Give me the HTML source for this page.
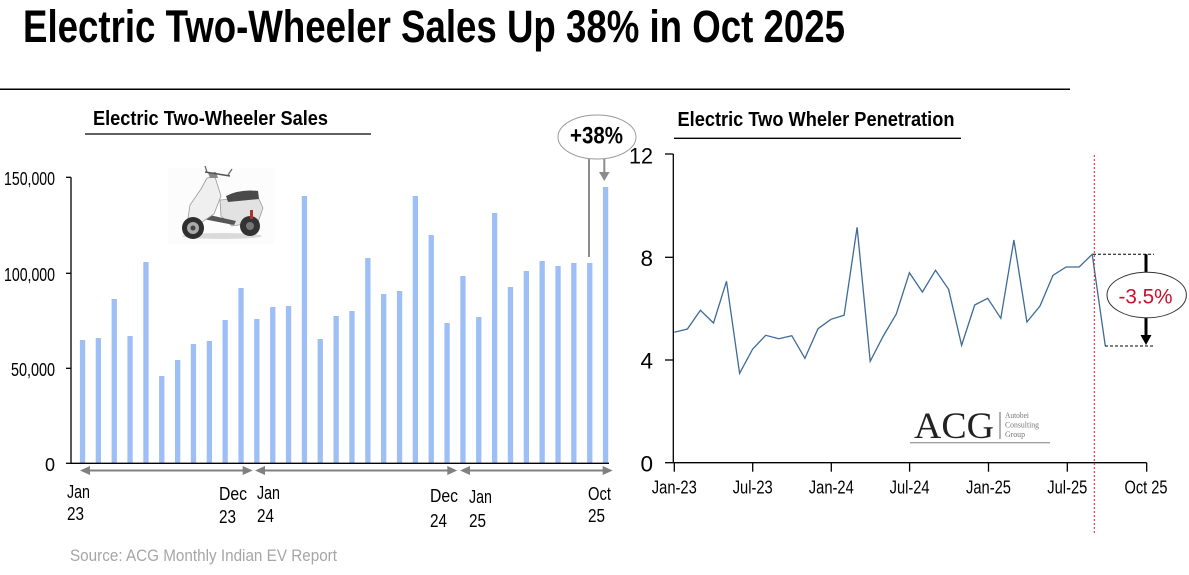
<!DOCTYPE html>
<html>
<head>
<meta charset="utf-8">
<style>
html,body{margin:0;padding:0;background:#fff;}
svg{display:block;}
text{font-family:"Liberation Sans Narrow","Liberation Sans",Arial,sans-serif;}
text.serif,.serif text{font-family:"Liberation Serif","DejaVu Serif",serif;}
</style>
</head>
<body>
<svg width="1189" height="575" viewBox="0 0 1189 575" xmlns="http://www.w3.org/2000/svg">
  <rect width="1189" height="575" fill="#fff"/>

  <!-- Main title -->
  <text x="23" y="42" font-size="45" font-weight="bold" fill="#000" textLength="822" lengthAdjust="spacingAndGlyphs">Electric Two-Wheeler Sales Up 38% in Oct 2025</text>
  <line x1="0" y1="89.3" x2="1070" y2="89.3" stroke="#000" stroke-width="1.5"/>

  <!-- LEFT CHART -->
  <text x="93" y="125" font-size="20" font-weight="bold" fill="#000" textLength="235" lengthAdjust="spacingAndGlyphs">Electric Two-Wheeler Sales</text>
  <line x1="85" y1="134" x2="371" y2="134" stroke="#000" stroke-width="1.3"/>

  <!-- scooter -->
  <g>
    <rect x="168" y="168" width="106" height="76" fill="#fcfcfc"/>
    <ellipse cx="222" cy="236" rx="40" ry="3" fill="#dadada"/>
    <path d="M220 200 L258 197 L263 208 L258 222 L232 226 L221 216 Z" fill="#e2e2e2" stroke="#9a9a9a" stroke-width="0.8"/>
    <path d="M226 196 Q240 189 258 191 L259 199 L228 202 Z" fill="#4a4a4a"/>
    <circle cx="250" cy="226" r="10" fill="#333"/>
    <circle cx="250" cy="226" r="4" fill="#777"/>
    <rect x="250" y="210" width="3" height="9" fill="#b03030"/>
    <path d="M205 214 L236 221 L234 225 L203 219 Z" fill="#555"/>
    <path d="M201 189 L207 178 L215 177 L221 196 L214 214 L202 222 L188 218 L190 205 Z" fill="#efefef" stroke="#9a9a9a" stroke-width="0.8"/>
    <path d="M210 178 L208 173 L216 172 L218 178 Z" fill="#888"/>
    <line x1="205" y1="172" x2="230" y2="176" stroke="#555" stroke-width="1.6"/>
    <line x1="207" y1="172" x2="205" y2="166" stroke="#666" stroke-width="1.2"/>
    <line x1="228" y1="175" x2="232" y2="169" stroke="#666" stroke-width="1.2"/>
    <circle cx="193" cy="228" r="11" fill="#2e2e2e"/>
    <circle cx="193" cy="228" r="6" fill="#aaa"/>
    <circle cx="193" cy="228" r="2.5" fill="#444"/>
  </g>

  <!-- y axis labels -->
  <g font-size="18" fill="#000" text-anchor="end">
    <text x="55" y="185" textLength="51" lengthAdjust="spacingAndGlyphs">150,000</text>
    <text x="55" y="281" textLength="51" lengthAdjust="spacingAndGlyphs">100,000</text>
    <text x="55" y="376" textLength="44" lengthAdjust="spacingAndGlyphs">50,000</text>
    <text x="55" y="471">0</text>
  </g>
  <!-- axes -->
  <g stroke="#000" stroke-width="1.3">
    <line x1="71" y1="177.3" x2="71" y2="463.3"/>
    <line x1="66" y1="177.3" x2="71" y2="177.3"/>
    <line x1="66" y1="273.3" x2="71" y2="273.3"/>
    <line x1="66" y1="368.3" x2="71" y2="368.3"/>
    <line x1="66" y1="463.3" x2="71" y2="463.3"/>
  </g>

  <!-- bars -->
  <g fill="#9ebef6">
    <rect x="79.9" y="340" width="5.3" height="123.3"/>
    <rect x="95.7" y="338" width="5.3" height="125.3"/>
    <rect x="111.6" y="299" width="5.3" height="164.3"/>
    <rect x="127.4" y="336" width="5.3" height="127.3"/>
    <rect x="143.3" y="262" width="5.3" height="201.3"/>
    <rect x="159.1" y="376" width="5.3" height="87.3"/>
    <rect x="175.0" y="360" width="5.3" height="103.3"/>
    <rect x="190.8" y="344" width="5.3" height="119.3"/>
    <rect x="206.7" y="341" width="5.3" height="122.3"/>
    <rect x="222.5" y="320" width="5.3" height="143.3"/>
    <rect x="238.4" y="288" width="5.3" height="175.3"/>
    <rect x="254.2" y="319" width="5.3" height="144.3"/>
    <rect x="270.1" y="307" width="5.3" height="156.3"/>
    <rect x="285.9" y="306" width="5.3" height="157.3"/>
    <rect x="301.8" y="196" width="5.3" height="267.3"/>
    <rect x="317.6" y="339" width="5.3" height="124.3"/>
    <rect x="333.5" y="316" width="5.3" height="147.3"/>
    <rect x="349.3" y="311" width="5.3" height="152.3"/>
    <rect x="365.2" y="258" width="5.3" height="205.3"/>
    <rect x="381.0" y="294" width="5.3" height="169.3"/>
    <rect x="396.9" y="291" width="5.3" height="172.3"/>
    <rect x="412.7" y="196" width="5.3" height="267.3"/>
    <rect x="428.6" y="235" width="5.3" height="228.3"/>
    <rect x="444.4" y="323" width="5.3" height="140.3"/>
    <rect x="460.3" y="276" width="5.3" height="187.3"/>
    <rect x="476.1" y="317" width="5.3" height="146.3"/>
    <rect x="492.0" y="213" width="5.3" height="250.3"/>
    <rect x="507.8" y="287" width="5.3" height="176.3"/>
    <rect x="523.7" y="271" width="5.3" height="192.3"/>
    <rect x="539.5" y="261" width="5.3" height="202.3"/>
    <rect x="555.4" y="266" width="5.3" height="197.3"/>
    <rect x="571.2" y="263" width="5.3" height="200.3"/>
    <rect x="587.1" y="263" width="5.3" height="200.3"/>
    <rect x="602.9" y="187" width="5.3" height="276.3"/>
  </g>
  <line x1="71" y1="463.3" x2="609" y2="463.3" stroke="#000" stroke-width="1.3"/>

  <!-- period arrows -->
  <g stroke="#808080" stroke-width="2" fill="#808080">
    <line x1="88" y1="470.5" x2="245" y2="470.5"/>
    <polygon stroke="none" points="80,470.5 90,466 90,475"/>
    <polygon stroke="none" points="252.7,470.5 242.7,466 242.7,475"/>
    <line x1="263" y1="470.5" x2="450" y2="470.5"/>
    <polygon stroke="none" points="255,470.5 265,466 265,475"/>
    <polygon stroke="none" points="457.3,470.5 447.3,466 447.3,475"/>
    <line x1="468" y1="470.5" x2="605" y2="470.5"/>
    <polygon stroke="none" points="460,470.5 470,466 470,475"/>
    <polygon stroke="none" points="612.7,470.5 602.7,466 602.7,475"/>
  </g>

  <!-- x labels left -->
  <g font-size="18" fill="#000">
    <text x="67" y="498" textLength="23" lengthAdjust="spacingAndGlyphs">Jan</text>
    <text x="67" y="520" textLength="17" lengthAdjust="spacingAndGlyphs">23</text>
    <text x="219" y="500" textLength="28" lengthAdjust="spacingAndGlyphs">Dec</text>
    <text x="219" y="523" textLength="17" lengthAdjust="spacingAndGlyphs">23</text>
    <text x="257" y="499" textLength="23" lengthAdjust="spacingAndGlyphs">Jan</text>
    <text x="257" y="522" textLength="17" lengthAdjust="spacingAndGlyphs">24</text>
    <text x="430" y="502" textLength="28" lengthAdjust="spacingAndGlyphs">Dec</text>
    <text x="430" y="527" textLength="17" lengthAdjust="spacingAndGlyphs">24</text>
    <text x="469" y="503" textLength="23" lengthAdjust="spacingAndGlyphs">Jan</text>
    <text x="469" y="527" textLength="17" lengthAdjust="spacingAndGlyphs">25</text>
    <text x="588" y="500" textLength="23" lengthAdjust="spacingAndGlyphs">Oct</text>
    <text x="588" y="522" textLength="17" lengthAdjust="spacingAndGlyphs">25</text>
  </g>

  <!-- +38% annotation -->
  <line x1="589" y1="158" x2="589" y2="257" stroke="#8c8c8c" stroke-width="2"/>
  <line x1="604.3" y1="158" x2="604.3" y2="173" stroke="#8c8c8c" stroke-width="2"/>
  <polygon points="599,172 609.6,172 604.3,181" fill="#8c8c8c"/>
  <ellipse cx="597" cy="137" rx="39" ry="22" fill="#fff" stroke="#9a9a9a" stroke-width="1"/>
  <text x="596.5" y="143.5" font-size="24" font-weight="bold" text-anchor="middle" fill="#000" textLength="53" lengthAdjust="spacingAndGlyphs">+38%</text>

  <!-- source -->
  <text x="70" y="561" font-size="17" fill="#a6a6a6" textLength="267" lengthAdjust="spacingAndGlyphs">Source: ACG Monthly Indian EV Report</text>

  <!-- RIGHT CHART -->
  <text x="677.5" y="126" font-size="20" font-weight="bold" fill="#000" textLength="277" lengthAdjust="spacingAndGlyphs">Electric Two Wheler Penetration</text>
  <line x1="674" y1="138.3" x2="961" y2="138.3" stroke="#000" stroke-width="1.3"/>

  <g font-size="22.5" fill="#000" text-anchor="end">
    <text x="653" y="163.5" textLength="24" lengthAdjust="spacingAndGlyphs">12</text>
    <text x="653" y="266">8</text>
    <text x="653" y="368.7">4</text>
    <text x="653" y="471.5">0</text>
  </g>

  <!-- ACG logo -->
  <text class="serif" x="914" y="438" font-size="37" fill="#222" textLength="80" lengthAdjust="spacingAndGlyphs">ACG</text>
  <line x1="1000" y1="412" x2="1000" y2="439" stroke="#666" stroke-width="1"/>
  <g font-size="8.5" fill="#777">
    <text class="serif" x="1005" y="418" textLength="24" lengthAdjust="spacingAndGlyphs">Autobei</text>
    <text class="serif" x="1005" y="427.5" textLength="34" lengthAdjust="spacingAndGlyphs">Consulting</text>
    <text class="serif" x="1005" y="437" textLength="20" lengthAdjust="spacingAndGlyphs">Group</text>
  </g>
  <line x1="910" y1="442.7" x2="1050" y2="442.7" stroke="#a0a0a0" stroke-width="1.3"/>

  <!-- axes -->
  <g stroke="#000" stroke-width="1.3">
    <line x1="673.3" y1="154" x2="673.3" y2="462.7"/>
    <line x1="665" y1="154" x2="673.3" y2="154"/>
    <line x1="665" y1="257.3" x2="673.3" y2="257.3"/>
    <line x1="665" y1="360" x2="673.3" y2="360"/>
    <line x1="665" y1="462.7" x2="673.3" y2="462.7"/>
    <line x1="673.3" y1="462.7" x2="1146.7" y2="462.7"/>
    <line x1="674.3" y1="462.7" x2="674.3" y2="471.7"/>
    <line x1="752.7" y1="462.7" x2="752.7" y2="471.7"/>
    <line x1="831.3" y1="462.7" x2="831.3" y2="471.7"/>
    <line x1="909.6" y1="462.7" x2="909.6" y2="471.7"/>
    <line x1="988.5" y1="462.7" x2="988.5" y2="471.7"/>
    <line x1="1067.3" y1="462.7" x2="1067.3" y2="471.7"/>
    <line x1="1146.7" y1="462.7" x2="1146.7" y2="471.7"/>
  </g>

  <g font-size="18.5" fill="#000" text-anchor="middle">
    <text x="674.3" y="493.3" textLength="45" lengthAdjust="spacingAndGlyphs">Jan-23</text>
    <text x="752.7" y="493.3" textLength="40" lengthAdjust="spacingAndGlyphs">Jul-23</text>
    <text x="831.3" y="493.3" textLength="45" lengthAdjust="spacingAndGlyphs">Jan-24</text>
    <text x="909.6" y="493.3" textLength="40" lengthAdjust="spacingAndGlyphs">Jul-24</text>
    <text x="988.5" y="493.3" textLength="45" lengthAdjust="spacingAndGlyphs">Jan-25</text>
    <text x="1067.3" y="493.3" textLength="40" lengthAdjust="spacingAndGlyphs">Jul-25</text>
    <text x="1146" y="493.3" textLength="43" lengthAdjust="spacingAndGlyphs">Oct 25</text>
  </g>

  <!-- penetration line -->
  <polyline fill="none" stroke="#3d6b98" stroke-width="1.3" stroke-linejoin="miter" points="
    674.3,332.3 687.4,329 700.4,310.3 713.5,323 726.5,281.3 739.6,373.3 752.7,349 765.7,335.3
    778.8,338.7 791.8,335.7 804.9,358.3 818.0,328.7 831.0,319.3 844.1,315.3 857.1,227.3 870.2,361.3
    883.3,336 896.3,314 909.4,272.7 922.4,292 935.5,270.3 948.6,289.3 961.6,345.3 974.7,305
    987.7,298.3 1000.8,318.3 1013.9,240 1026.9,322 1040.0,306 1053.0,275.3 1066.1,267 1079.2,267
    1092.2,254.3 1105.3,346"/>

  <!-- red dotted vertical -->
  <line x1="1094.3" y1="155" x2="1094.3" y2="535" stroke="#d02030" stroke-width="1" stroke-dasharray="2,2"/>

  <!-- -3.5% annotation -->
  <line x1="1093" y1="254.3" x2="1154" y2="254.3" stroke="#000" stroke-width="1" stroke-dasharray="3,2"/>
  <line x1="1105" y1="346" x2="1154" y2="346" stroke="#000" stroke-width="1" stroke-dasharray="3,2"/>
  <line x1="1146" y1="254.3" x2="1146" y2="336" stroke="#000" stroke-width="3"/>
  <polygon points="1140.5,335 1151.5,335 1146,345" fill="#000"/>
  <ellipse cx="1146.7" cy="295" rx="39.7" ry="22.8" fill="#fff" stroke="#333" stroke-width="1"/>
  <text x="1145.5" y="303.3" font-size="21.5" text-anchor="middle" fill="#c8102e" textLength="54" lengthAdjust="spacingAndGlyphs">-3.5%</text>
</svg>
</body>
</html>
